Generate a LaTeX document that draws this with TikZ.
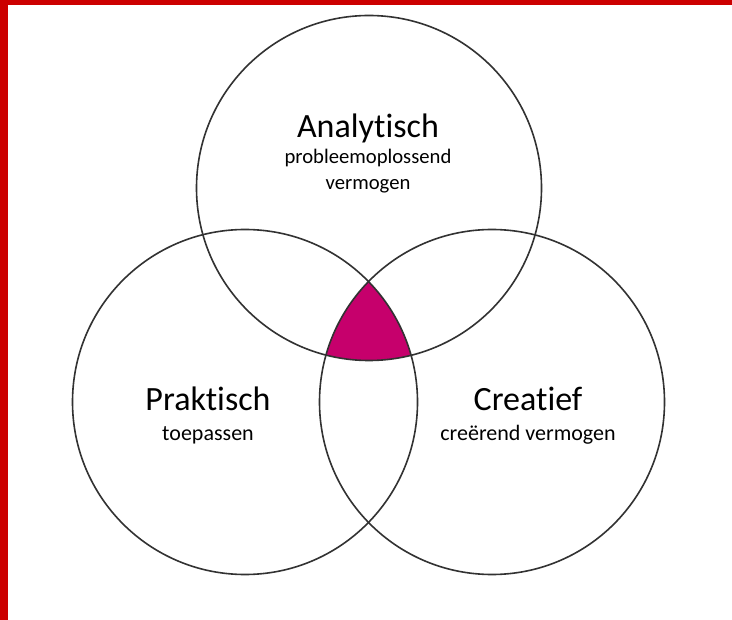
\documentclass[tikz,border=0pt]{standalone}
\usepackage{fontspec}
\setmainfont{Carlito}[Ligatures={NoCommon}]
\definecolor{frame}{RGB}{204,0,0}
\definecolor{core}{RGB}{198,0,108}
\definecolor{ring}{RGB}{50,50,50}
\begin{document}
\begin{tikzpicture}[x=0.75pt,y=-0.75pt,
  ringstyle/.style={draw=ring,line width=1.2pt},
  bigtext/.style={font=\fontsize{25.5}{30}\selectfont,inner sep=0pt,anchor=base},
  smalltext/.style={font=\fontsize{16.5}{20}\selectfont,inner sep=0pt,anchor=base},
  toptext/.style={font=\fontsize{15.5}{19}\selectfont,inner sep=0pt,anchor=base}]
\useasboundingbox (0,0) rectangle (732,620);
\fill[white] (0,0) rectangle (732,620);
\fill[frame] (0,0) rectangle (8,620);
\fill[frame] (0,0) rectangle (732,5);
\coordinate (ctop) at (369,188);
\coordinate (cleft) at (245,402);
\coordinate (cright) at (492,402);
\begin{scope}
  \clip (ctop) circle[radius=172.5];
  \clip (cleft) circle[radius=172.5];
  \fill[core] (cright) circle[radius=172.5];
\end{scope}
\draw[ringstyle] (ctop) circle[radius=172.5];
\draw[ringstyle] (cleft) circle[radius=172.5];
\draw[ringstyle] (cright) circle[radius=172.5];
\node[bigtext] (ana) at (368,138) {Analytisch};
\node[toptext] (ana1) at (368,164) {probleemoplossend};
\node[toptext] (ana2) at (368,190) {vermogen};
\node[bigtext] (pra) at (208,410) {Praktisch};
\node[smalltext] (pra1) at (208,440) {toepassen};
\node[bigtext] (cre) at (528,410) {Creatief};
\node[smalltext] (cre1) at (528,440) {creërend vermogen};
\end{tikzpicture}
\end{document}
